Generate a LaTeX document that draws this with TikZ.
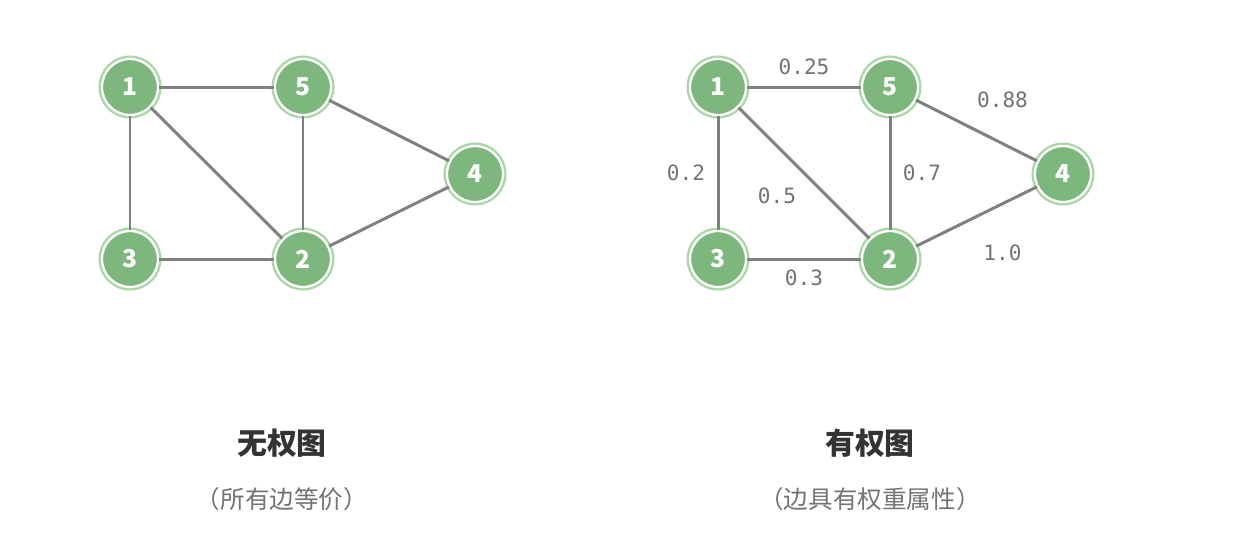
\documentclass[tikz,border=0pt]{standalone}
\usepackage{fontspec}
\setmainfont{Noto Sans}
\newfontfamily\cjk{Noto Sans CJK SC}
\newfontfamily\weightfont{DejaVu Sans Mono}
\usepackage{tikz}
\usetikzlibrary{calc}
\definecolor{Green}{RGB}{126,183,125}
\definecolor{Green1}{RGB}{170,214,168}
\definecolor{EdgeGray}{RGB}{128,128,128}
\definecolor{TextGray}{RGB}{115,115,115}
\newcommand{\pxu}{*0.02cm}
\tikzset{
  vertex/.style={circle, minimum size=56\pxu, inner sep=0pt, fill=Green,
    draw=white, line width=1.3pt, preaction={draw=Green1, line width=4pt},
    text=white, font=\cjk\bfseries\fontsize{14}{14}\selectfont},
  link/.style={draw=EdgeGray, line width=1.7pt},
  weight/.style={text=TextGray, inner sep=0pt, midway, font=\weightfont\fontsize{12}{12}\selectfont},
  title/.style={text=black!80, font=\cjk\bfseries\fontsize{17}{17}\selectfont},
  subtitle/.style={text=TextGray, font=\cjk\fontsize{14}{14}\selectfont}
}

\begin{document}
\begin{tikzpicture}[x=0.02cm, y=-0.02cm]
\useasboundingbox (0,0) rectangle (1250,552);

% unweighted graph
\node[vertex] (a1) at (130,87) {1};
\node[vertex] (a5) at (303,87) {5};
\node[vertex] (a4) at (475,174) {4};
\node[vertex] (a3) at (130,259) {3};
\node[vertex] (a2) at (303,259) {2};
\draw[link] (a1) -- (a5);
\draw[link] (a1) -- (a3);
\draw[link] (a1) -- (a2);
\draw[link] (a5) -- (a2);
\draw[link] (a5) -- (a4);
\draw[link] (a3) -- (a2);
\draw[link] (a2) -- (a4);

% weighted graph
\node[vertex] (b1) at (718,87) {1};
\node[vertex] (b5) at (890,87) {5};
\node[vertex] (b4) at (1063,174) {4};
\node[vertex] (b3) at (718,259) {3};
\node[vertex] (b2) at (890,259) {2};
\draw[link] (b1) -- node[weight, yshift=20\pxu] {0.25} (b5);
\draw[link] (b1) -- node[weight, xshift=-32\pxu] {0.2} (b3);
\draw[link] (b1) -- node[weight, xshift=-27\pxu, yshift=-23\pxu] {0.5} (b2);
\draw[link] (b5) -- node[weight, xshift=32\pxu] {0.7} (b2);
\draw[link] (b5) -- node[weight, xshift=26\pxu, yshift=31\pxu] {0.88} (b4);
\draw[link] (b3) -- node[weight, yshift=-19\pxu] {0.3} (b2);
\draw[link] (b2) -- node[weight, xshift=26\pxu, yshift=-36\pxu] {1.0} (b4);

\node[title] (t1) at (282,443) {无权图};
\node[subtitle] (s1) at (282,499) {（所有边等价）};
\node[title] (t2) at (870,443) {有权图};
\node[subtitle] (s2) at (870,499) {（边具有权重属性）};
\end{tikzpicture}
\end{document}
